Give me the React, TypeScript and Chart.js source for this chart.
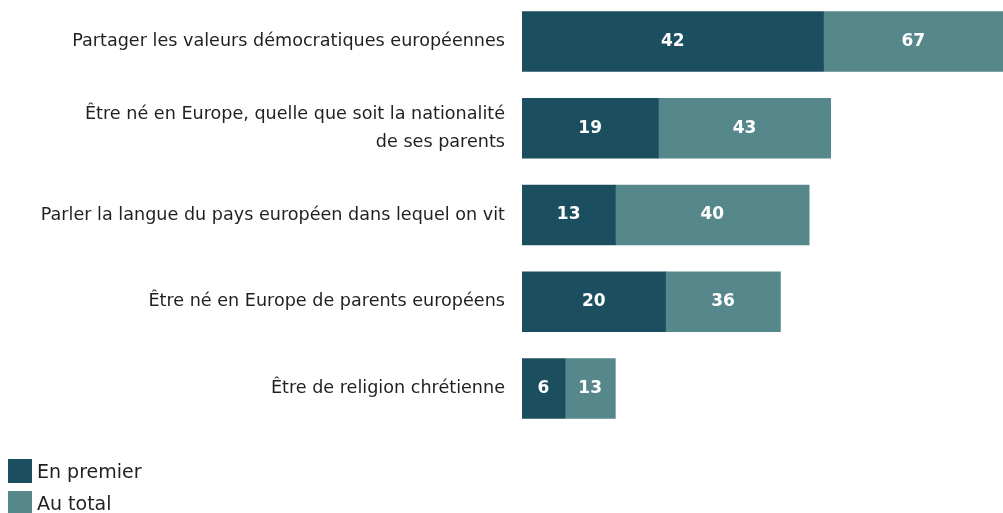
import React, { useEffect, useRef } from "react";
import { Chart, registerables } from "chart.js";
Chart.register(...registerables);

const categories: (string | string[])[] = [
  "Partager les valeurs démocratiques européennes",
  ["Être né en Europe, quelle que soit la nationalité", "de ses parents"],
  "Parler la langue du pays européen dans lequel on vit",
  "Être né en Europe de parents européens",
  "Être de religion chrétienne",
];
const enPremier = [42, 19, 13, 20, 6];
const auTotal = [67, 43, 40, 36, 13];
const remainder = auTotal.map((t, i) => t - enPremier[i]);

const DARK = "#1b4f5f";
const LIGHT = "#56878b";
const FONT = "'DejaVu Sans', 'Open Sans', sans-serif";

const labelPlugin = {
  id: "barLabels",
  afterDatasetsDraw(chart: any) {
    const ctx = chart.ctx;
    ctx.save();
    ctx.fillStyle = "#ffffff";
    ctx.font = `bold 17px ${FONT}`;
    ctx.textAlign = "center";
    ctx.textBaseline = "middle";
    chart.data.datasets.forEach((ds: any, di: number) => {
      const meta = chart.getDatasetMeta(di);
      meta.data.forEach((bar: any, i: number) => {
        const left = Math.min(bar.x, bar.base);
        const right = Math.max(bar.x, bar.base);
        const txt = di === 0 ? String(enPremier[i]) : String(auTotal[i]);
        ctx.fillText(txt, (left + right) / 2, bar.y);
      });
    });
    ctx.restore();
  },
};

export default function App() {
  const ref = useRef<HTMLCanvasElement | null>(null);
  useEffect(() => {
    document.body.style.margin = "0";
    const chart = new Chart(ref.current!, {
      type: "bar",
      data: {
        labels: categories,
        datasets: [
          { label: "En premier", data: enPremier, backgroundColor: DARK, barThickness: 60 },
          { label: "Au total", data: remainder, backgroundColor: LIGHT, barThickness: 60 },
        ],
      },
      options: {
        indexAxis: "y",
        animation: false,
        responsive: false,
        maintainAspectRatio: false,
        layout: { padding: 0 },
        plugins: { legend: { display: false }, tooltip: { enabled: false } },
        scales: {
          x: { stacked: true, min: 0, max: 67, display: false },
          y: {
            stacked: true,
            grid: { display: false, drawTicks: false },
            border: { display: false },
            ticks: {
              color: "#231f20",
              font: { family: FONT, size: 17.6, lineHeight: 1.6 },
              padding: 17,
            },
            afterFit: (s: any) => {
              s.width = 522;
            },
          },
        },
      },
      plugins: [labelPlugin],
    });
    return () => chart.destroy();
  }, []);

  const item = (color: string, text: string, top: number) => (
    <div style={{ position: "absolute", left: 8, top, display: "flex", alignItems: "center" }}>
      <div style={{ width: 24, height: 24, background: color, marginRight: 5 }} />
      <span style={{ fontFamily: FONT, fontSize: 19, color: "#231f20", lineHeight: "24px" }}>{text}</span>
    </div>
  );

  return (
    <div style={{ position: "relative", width: 1003, height: 513, overflow: "hidden" }}>
      <canvas ref={ref} width={1003} height={496} style={{ position: "absolute", left: 0, top: -33 }} />
      {item(DARK, "En premier", 459)}
      {item(LIGHT, "Au total", 491)}
    </div>
  );
}
